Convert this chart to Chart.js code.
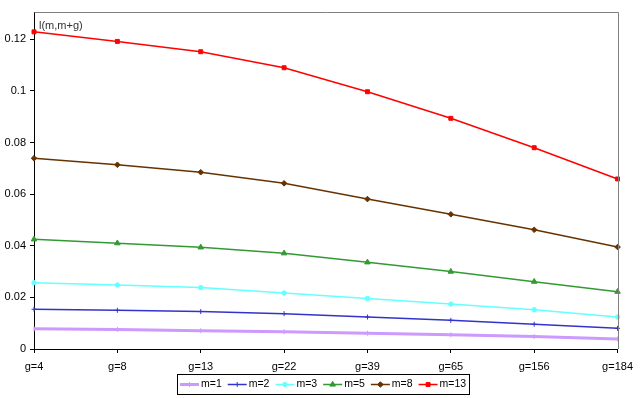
<!DOCTYPE html>
<html>
<head>
<meta charset="utf-8">
<script src="https://cdn.jsdelivr.net/npm/chart.js"></script>
<style>
  html, body { margin: 0; padding: 0; background: #fff; }
  #wrap { width: 640px; height: 398px; }
</style>
</head>
<body>
<div id="wrap"><canvas id="chart" width="640" height="398"></canvas></div>
<script>
const categories = ['g=4', 'g=8', 'g=13', 'g=22', 'g=39', 'g=65', 'g=156', 'g=184'];

const m1 = [0.0078, 0.0076, 0.0071, 0.0067, 0.0061, 0.0055, 0.0048, 0.0039];
const m2 = [0.0154, 0.0150, 0.0145, 0.0137, 0.0124, 0.0111, 0.0096, 0.0080];
const m3 = [0.0257, 0.0248, 0.0238, 0.0217, 0.0196, 0.0174, 0.0152, 0.0124];
const m5 = [0.0425, 0.0410, 0.0394, 0.0371, 0.0336, 0.0300, 0.0261, 0.0222];
const m8 = [0.0739, 0.0714, 0.0685, 0.0642, 0.0581, 0.0522, 0.0462, 0.0395];
const m13 = [0.1229, 0.1192, 0.1152, 0.1090, 0.0997, 0.0894, 0.0780, 0.0659];

const yTicks = [0, 0.02, 0.04, 0.06, 0.08, 0.1, 0.12];
const yTitle = 'l(m,m+g)';

const FONT = "'Liberation Sans', Arial, sans-serif";

function series(label, data, color, width, style, radius, rotation) {
    return {
        label: label,
        data: data,
        borderColor: color,
        backgroundColor: color,
        borderWidth: width,
        pointStyle: style,
        pointRadius: radius,
        pointRotation: rotation || 0,
        pointBorderWidth: 1,
        pointBackgroundColor: color,
        pointBorderColor: color,
        tension: 0,
        clip: false
    };
}

// frame (grey top/right), title text and boxed legend
const decorations = {
    id: 'decorations',
    afterDraw(chart) {
        const ctx = chart.ctx;
        const a = chart.chartArea;
        ctx.save();
        ctx.strokeStyle = '#808080';
        ctx.lineWidth = 1;
        ctx.beginPath();
        ctx.moveTo(Math.round(a.left) + 0.5, Math.round(a.top) + 0.5);
        ctx.lineTo(Math.round(a.right) + 0.5, Math.round(a.top) + 0.5);
        ctx.lineTo(Math.round(a.right) + 0.5, Math.round(a.bottom));
        ctx.stroke();

        ctx.fillStyle = '#333';
        ctx.font = '11px ' + FONT;
        ctx.textBaseline = 'middle';
        ctx.textAlign = 'left';
        ctx.fillText(yTitle, a.left + 5, a.top + 14);

        // legend
        ctx.font = '10.5px ' + FONT;
        const sets = chart.data.datasets;
        const lineLen = 19, gapText = 2, gapItem = 6, padX = 3;
        let total = padX;
        const widths = sets.map(ds => ctx.measureText(ds.label).width);
        widths.forEach((w, i) => {
            total += lineLen + gapText + w + (i < sets.length - 1 ? gapItem : 0);
        });
        total += padX;
        const bx = Math.round((a.left + a.right) / 2 - 3 - total / 2);
        const by = 374, bh = 20;
        ctx.strokeStyle = '#000';
        ctx.lineWidth = 1;
        ctx.strokeRect(bx + 0.5, by + 0.5, Math.round(total), bh);
        let x = bx + padX;
        const cy = by + bh / 2 + 0.5;
        sets.forEach((ds, i) => {
            ctx.strokeStyle = ds.borderColor;
            ctx.lineWidth = ds.borderWidth;
            ctx.beginPath();
            ctx.moveTo(x, cy);
            ctx.lineTo(x + lineLen, cy);
            ctx.stroke();
            ctx.fillStyle = ds.pointBackgroundColor;
            ctx.strokeStyle = ds.pointBorderColor;
            ctx.lineWidth = ds.pointBorderWidth;
            Chart.helpers.drawPoint(ctx, {
                pointStyle: ds.pointStyle,
                radius: ds.pointRadius,
                rotation: ds.pointRotation,
                borderWidth: ds.pointBorderWidth
            }, x + lineLen / 2, cy);
            ctx.fillStyle = '#000';
            ctx.fillText(ds.label, x + lineLen + gapText, cy);
            x += lineLen + gapText + widths[i] + gapItem;
        });
        ctx.restore();
    }
};

new Chart(document.getElementById('chart'), {
    type: 'line',
    data: {
        labels: categories,
        datasets: [
            series('m=1', m1, '#CC99FF', 3, 'line', 2.5, 90),
            series('m=2', m2, '#3333CC', 1.5, 'cross', 2.5),
            series('m=3', m3, '#66FFFF', 1.5, 'circle', 2.2),
            series('m=5', m5, '#339933', 1.5, 'triangle', 3.2),
            series('m=8', m8, '#663300', 1.5, 'rectRot', 2.8),
            series('m=13', m13, '#FF0000', 1.5, 'rect', 2.8)
        ]
    },
    options: {
        responsive: false,
        animation: false,
        layout: { padding: { top: 12, right: 20, left: 0, bottom: 0 } },
        plugins: {
            legend: { display: false },
            tooltip: { enabled: false }
        },
        scales: {
            x: {
                offset: false,
                grid: { display: true, drawOnChartArea: false, drawTicks: true, tickLength: 4, color: '#000' },
                border: { display: true, color: '#000', width: 1 },
                ticks: { color: '#000', font: { family: FONT, size: 11 }, padding: 7, maxRotation: 0, autoSkip: false },
                afterFit(scale) { scale.height = 49; }
            },
            y: {
                min: 0,
                max: 0.1306,
                grid: { display: true, drawOnChartArea: false, drawTicks: true, tickLength: 4, color: '#000' },
                border: { display: true, color: '#000', width: 1 },
                ticks: {
                    color: '#000',
                    font: { family: FONT, size: 11 },
                    padding: 4,
                    callback: function (value) { return String(value); }
                },
                afterBuildTicks(scale) { scale.ticks = yTicks.map(v => ({ value: v })); },
                afterFit(scale) { scale.width = 34; }
            }
        }
    },
    plugins: [decorations]
});
</script>
</body>
</html>
